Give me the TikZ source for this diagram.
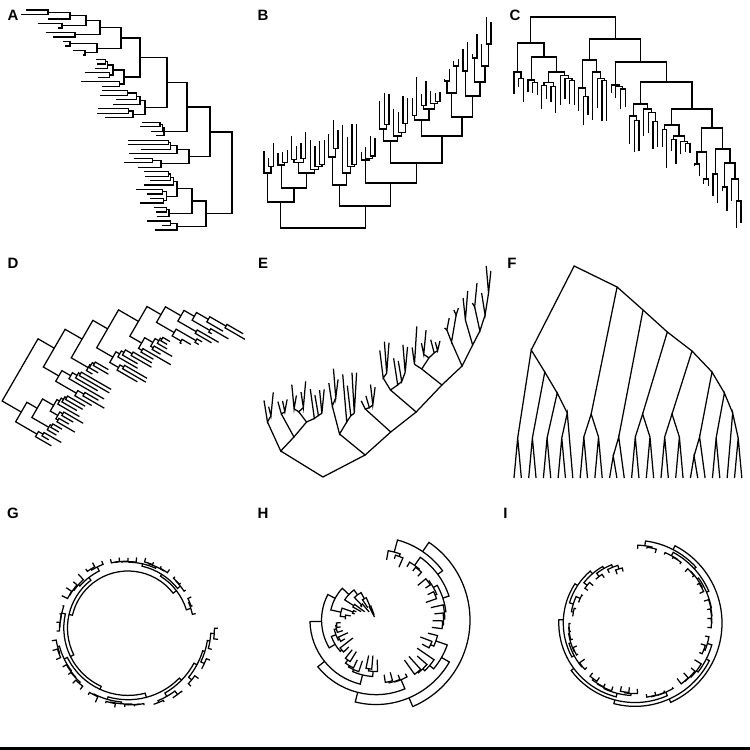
\documentclass[tikz,border=0pt]{standalone}
\usepackage{fontspec}
\setmainfont{Liberation Sans}
\newcount\leafc
% leaf at absolute depth #1
\newcommand\Lf[1]{\global\advance\leafc by 1\relax\xdef\rd{#1}\xdef\rp{\the\leafc}}
% internal node at absolute depth #1 with children #2 #3
\newcommand\Nd[3]{\begingroup
  \edef\myd{#1}%
  #2\let\dA\rd\let\pA\rp
  #3\let\dB\rd\let\pB\rp
  \pgfmathsetmacro\myp{(\pA+\pB)/2}%
  \drawjoin
  \xdef\rd{\myd}\xdef\rp{\myp}%
  \endgroup}
% random clade: n leaves, node depth, tip min, tip max
\newcommand\Rsub[4]{%
  \ifnum#1=1
    \pgfmathsetmacro\rtmp{#3+rnd*(#4-#3)}%
    \edef\rsub{\noexpand\Lf{\rtmp}}%
  \else
    \pgfmathsetmacro\rtmp{#2+(#3-#2)*(0.15+0.45*rnd)}%
    \edef\rsub{\noexpand\Rt{#1}{\rtmp}{#3}{#4}}%
  \fi}
\newcommand\Rt[4]{%
  \ifnum#1=1
    \pgfmathsetmacro\rtmp{#3+rnd*(#4-#3)}%
    \Lf{\rtmp}%
  \else
    \begingroup
    \pgfmathtruncatemacro\rmax{#1-1}%
    \pgfmathrandominteger{\rk}{1}{\rmax}%
    \pgfmathtruncatemacro\rka{min(\rk,#1-\rk)}%
    \pgfmathtruncatemacro\rkb{#1-\rka}%
    \Rsub{\rka}{#2}{#3}{#4}\let\cA\rsub
    \Rsub{\rkb}{#2}{#3}{#4}\let\cB\rsub
    \edef\rnext{\noexpand\Nd{#2}{\unexpanded\expandafter{\cA}}{\unexpanded\expandafter{\cB}}}%
    \expandafter\endgroup\rnext
  \fi}
\tikzset{br/.style={line width=1.25pt, line join=miter, line cap=butt, black},
  lab/.style={font=\fontsize{15}{15}\selectfont\bfseries, inner sep=0pt}}
\newcommand\joinrect{\draw[br] (\dA,\pA) -- (\myd,\pA) -- (\myd,\pB) -- (\dB,\pB);}
\newcommand\joinslant{\draw[br] (\dA,\pA) -- (\myd,\myp) -- (\dB,\pB);}
\newcommand\joincirc{%
  \pgfmathsetmacro\tA{\thz+\pA*\ths}%
  \pgfmathsetmacro\tB{\thz+\pB*\ths}%
  \pgfmathsetmacro\rA{\rz+\dA*\rs}%
  \pgfmathsetmacro\rB{\rz+\dB*\rs}%
  \pgfmathsetmacro\rN{\rz+\myd*\rs}%
  \draw[br] (\tA:\rA pt) -- (\tA:\rN pt) arc[start angle=\tA, end angle=\tB, radius=\rN pt] -- (\tB:\rB pt);}
% the shared tree (depth 0 at root)
\newcommand\mastertree{%
\Nd{0}
 {\Nd{26}{\Rt{3}{55}{70}{85}}{\Nd{40}{\Rt{3}{63}{75}{90}}{\Rt{8}{55}{73}{96}}}}
 {\Nd{22}{\Nd{43}{\Rt{3}{71}{86}{115}}{\Rt{4}{55}{68}{106}}}
  {\Nd{45}{\Rt{4}{68}{76}{93}}
   {\Nd{65}{\Rt{7}{87}{113}{139}}
    {\Nd{92}{\Rt{7}{108}{128}{156}}
     {\Nd{111}{\Nd{135}{\Nd{147}{\Lf{149}}{\Lf{159}}}{\Nd{162}{\Lf{167}}{\Lf{169}}}}
       {\Nd{132}{\Nd{157}{\Lf{179}}{\Lf{186}}}{\Nd{146}{\Nd{170}{\Lf{174}}{\Lf{194}}}{\Nd{162}{\Lf{184}}{\Nd{184}{\Lf{211}}{\Lf{206}}}}}}}}}}}}
\newcommand\drawmaster{\global\leafc=0 \pgfmathsetseed{12}\mastertree}
% panel F tree (cladogram, absolute depths = screen y)
\newcommand\fch[1]{\Nd{#1}{\Lf{478}}{\Lf{478}}}
\newcommand\fqd[1]{\Nd{#1}{\fch{437}}{\fch{437}}}
\newcommand\ftree{%
\Nd{266}
 {\Nd{350}{\fch{438}}
   {\Nd{372}{\fch{438}}
     {\Nd{393}{\fch{438}}
       {\Nd{413}{\fch{438}}{\Lf{478}}}}}}
 {\Nd{287}{\fqd{414}}
   {\Nd{310}{\Nd{437}{\fch{456}}{\Lf{478}}}
     {\Nd{332}{\fqd{414}}
       {\Nd{351}{\fqd{414}}
         {\Nd{372}{\Nd{437}{\fch{456}}{\Lf{478}}}
           {\Nd{393}{\fch{438}}
             {\Nd{413}{\Lf{478}}{\fch{438}}}}}}}}}}
\begin{document}
\begin{tikzpicture}[yscale=-1,x=1pt,y=1pt]
\useasboundingbox (0,0) rectangle (750,750);
\fill[white] (0,0) rectangle (750,750);
% A
\begin{scope}[shift={(232pt,234.5pt)},x={(-1pt,0pt)},y={(0pt,-4.49pt)}]
  \let\drawjoin\joinrect \drawmaster
\end{scope}
% B
\begin{scope}[shift={(259.37pt,228pt)},x={(0pt,-1pt)},y={(4.63pt,0pt)}]
  \let\drawjoin\joinrect \drawmaster
\end{scope}
% C
\begin{scope}[shift={(509.37pt,17pt)},x={(0pt,1pt)},y={(4.63pt,0pt)}]
  \let\drawjoin\joinrect \drawmaster
\end{scope}
% D
\begin{scope}[shift={(-6.95pt,416.7pt)},x={(0.736pt,0.425pt)},y={(1.97pt,-3.41pt)}]
  \let\drawjoin\joinrect \drawmaster
\end{scope}
% E
\begin{scope}[shift={(259.37pt,477pt)},x={(0pt,-1pt)},y={(4.63pt,0pt)}]
  \let\drawjoin\joinslant \drawmaster
\end{scope}
% F
\begin{scope}[shift={(506.65pt,0pt)},x={(0pt,1pt)},y={(7.35pt,0pt)}]
  \let\drawjoin\joinslant \global\leafc=0 \ftree
\end{scope}
% G
\begin{scope}[shift={(128pt,628pt)}]
  \def\thz{-4.9}\def\ths{-7.1}\def\rz{57}\def\rs{0.16}
  \let\drawjoin\joincirc \drawmaster
\end{scope}
% H
\begin{scope}[shift={(376pt,620pt)}]
  \def\thz{-86.73}\def\ths{6.73}\def\rz{94}\def\rs{-0.43}
  \let\drawjoin\joincirc \drawmaster
\end{scope}
% I
\begin{scope}[shift={(635pt,623pt)}]
  \def\thz{-95.04}\def\ths{7.04}\def\rz{87}\def\rs{-0.166}
  \let\drawjoin\joincirc \drawmaster
\end{scope}
% labels
\node[lab] (la) at (13,15) {A};
\node[lab] (lb) at (263,15) {B};
\node[lab] (lc) at (515,15) {C};
\node[lab] (ld) at (13,263) {D};
\node[lab] (le) at (263,263) {E};
\node[lab] (lf) at (512,263) {F};
\node[lab] (lg) at (13,513) {G};
\node[lab] (lh) at (263,513) {H};
\node[lab] (li) at (505.5,513) {I};
% bottom rule
\fill[black] (0,746.5) rectangle (750,750);
\end{tikzpicture}
\end{document}
